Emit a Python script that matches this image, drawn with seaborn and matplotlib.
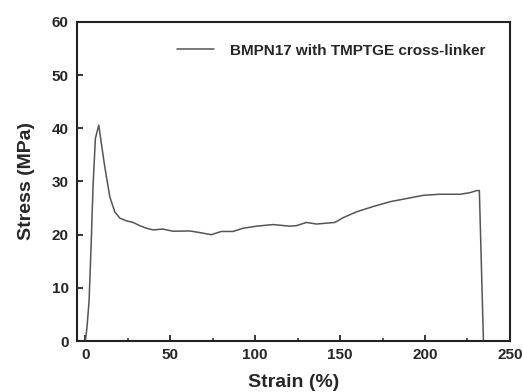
import matplotlib
matplotlib.use("Agg")
import matplotlib.pyplot as plt
import seaborn as sns
import pandas as pd
from matplotlib.ticker import MultipleLocator

strain = [0, 1, 2.2, 3.5, 4.5, 5.9, 7.9, 9.4, 11.4, 14.4, 17.3, 20.3, 24.2, 28.1, 32, 36,
          39.9, 45.7, 51.6, 61.4, 67.3, 74.1, 80, 86.9, 92.8, 100.7, 110.5, 120.4, 124.3,
          130.2, 136.1, 146.9, 151.8, 159.7, 169.5, 179.4, 189.2, 199, 208.5, 220.6, 226.5,
          230.5, 232, 234.4]
stress = [0, 2.7, 7.7, 19, 29, 38.1, 40.6, 37.2, 32.8, 27.1, 24.3, 23.1, 22.6, 22.3, 21.7, 21.2,
          20.9, 21.05, 20.65, 20.7, 20.4, 20.0, 20.6, 20.6, 21.2, 21.6, 21.9, 21.6, 21.7,
          22.3, 22.0, 22.3, 23.2, 24.3, 25.3, 26.2, 26.8, 27.4, 27.6, 27.6, 27.9,
          28.3, 28.3, 0]
label = "BMPN17 with TMPTGE cross-linker"

sns.set_style("white")
plt.rcParams['font.family'] = ['Liberation Sans', 'DejaVu Sans']
plt.rcParams['font.weight'] = 'bold'

df = pd.DataFrame({"Strain": strain, "Stress": stress})

fig = plt.figure(figsize=(5.23, 3.92), dpi=100)
ax = fig.add_axes([0.147, 0.130, 0.828, 0.814])
sns.lineplot(data=df, x="Strain", y="Stress", ax=ax, color="#555555", linewidth=1.1,
             label=label, sort=False, estimator=None)

ax.set_xlim(-5, 250)
ax.set_ylim(0, 60)
ax.xaxis.set_major_locator(MultipleLocator(50))
ax.xaxis.set_minor_locator(MultipleLocator(25))
ax.yaxis.set_major_locator(MultipleLocator(10))
ax.tick_params(axis='both', which='major', direction='in', length=4, width=1.3,
               labelsize=11, bottom=True, left=True, top=False, right=False)
ax.tick_params(axis='y', which='major', pad=6)
ax.tick_params(axis='x', which='major', pad=5)
ax.tick_params(axis='x', which='minor', direction='in', length=2.5, width=1.1, bottom=True)
for lab in ax.get_xticklabels() + ax.get_yticklabels():
    lab.set_fontweight('bold')
for s in ax.spines.values():
    s.set_linewidth(1.5)
    s.set_color("#222222")
ax.set_xlabel("Strain (%)", fontsize=14, fontweight='bold', labelpad=9)
ax.set_ylabel("Stress (MPa)", fontsize=14, fontweight='bold', labelpad=12)
leg = ax.legend(loc='upper right', frameon=False, handlelength=2.4, handletextpad=1.1,
                bbox_to_anchor=(0.976, 0.975), prop={'weight': 'bold', 'size': 11})
fig.savefig("out.png", dpi=100)
